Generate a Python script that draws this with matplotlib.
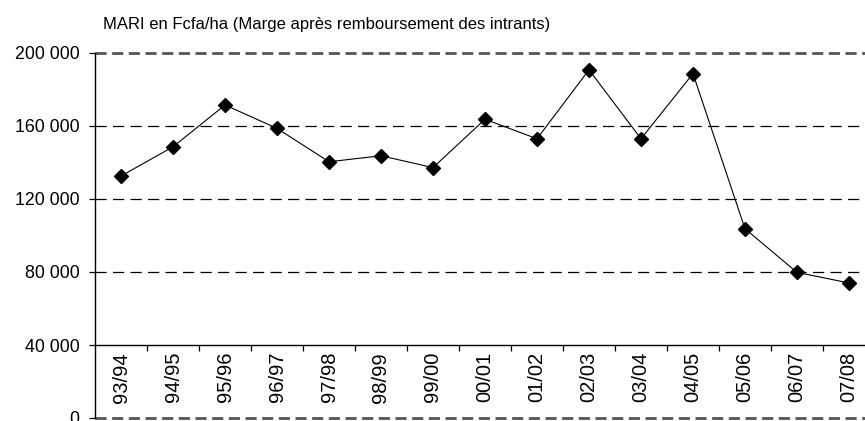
import matplotlib
matplotlib.use("Agg")
import matplotlib.pyplot as plt
from matplotlib.ticker import FixedLocator

plt.rcParams['font.family'] = ['Liberation Sans', 'DejaVu Sans']

campagnes = ["93/94", "94/95", "95/96", "96/97", "97/98", "98/99", "99/00",
             "00/01", "01/02", "02/03", "03/04", "04/05", "05/06", "06/07", "07/08"]
mari = [132600, 148600, 171500, 158700, 140400, 143700, 137200,
        163700, 153000, 190800, 153000, 188700, 103700, 79800, 74000]
yticks = [0, 40000, 80000, 120000, 160000, 200000]
ytick_labels = ["0", "40 000", "80 000", "120 000", "160 000", "200 000"]
title = "MARI en Fcfa/ha (Marge après remboursement des intrants)"

W, H = 865, 421
fig = plt.figure(figsize=(W / 100, H / 100), dpi=100)
left, right, top, bottom = 95, 865, 53, 418
ax = fig.add_axes([left / W, (H - bottom) / H, (right - left) / W, (bottom - top) / H])

x = list(range(len(campagnes)))
ax.plot(x, mari, color='black', lw=0.8, marker='D', markersize=7,
        markerfacecolor='black', markeredgecolor='black', zorder=5)

ax.set_ylim(0, 200000)
ax.set_xlim(-0.5, -0.5 + (right - left) / 52.0)

# horizontal lines
for v in yticks:
    if v == 40000:
        continue
    if v in (0, 200000):
        ax.axhline(v, color='#555555', lw=2.0, ls=(0, (4, 2)), zorder=1, clip_on=False)
    else:
        ax.axhline(v, color='black', lw=0.9, ls=(0, (9, 5)), zorder=1)

for s in ('top', 'right'):
    ax.spines[s].set_visible(False)
ax.spines['left'].set_linewidth(1.0)
ax.spines['bottom'].set_position(('data', 40000))
ax.spines['bottom'].set_linewidth(1.0)

ax.set_yticks(yticks)
ax.set_yticklabels(ytick_labels)
ax.tick_params(axis='y', direction='out', length=4.5, width=0.9, pad=6.5,
               labelsize=12.8, colors='black')

ax.set_xticks(x)
ax.set_xticklabels(campagnes, rotation=90, fontsize=14.5)
ax.xaxis.set_minor_locator(FixedLocator([i + 0.5 for i in range(len(campagnes) - 1)]))
ax.tick_params(axis='x', which='major', length=0, pad=5)
ax.tick_params(axis='x', which='minor', direction='out', length=4, width=0.9)

fig.text(103 / W, 1 - 29 / H, title, fontsize=12, va='baseline', ha='left')

fig.savefig("out.png", dpi=100)
